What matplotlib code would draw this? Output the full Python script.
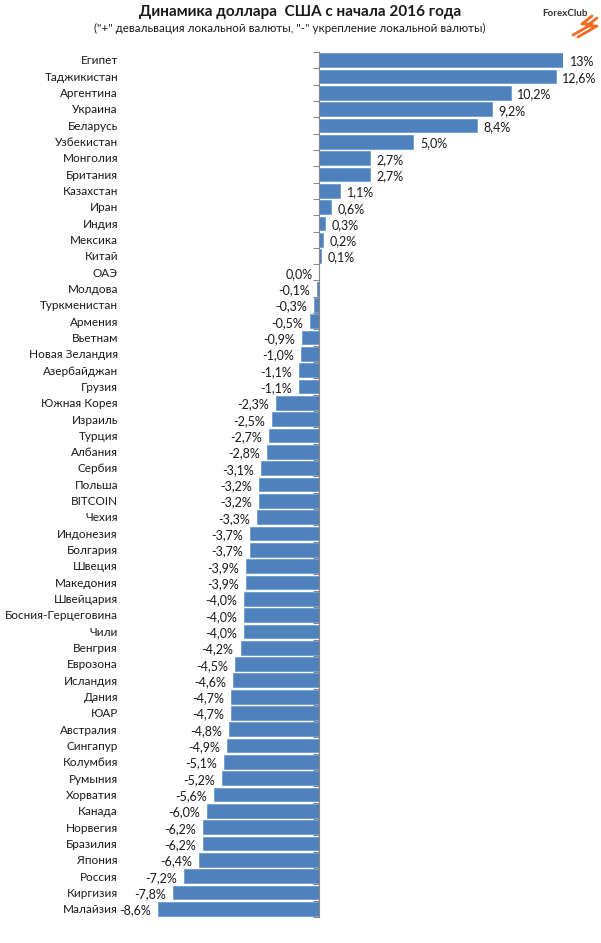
import numpy as np
import matplotlib
matplotlib.use('Agg')
import matplotlib.pyplot as plt
from matplotlib.transforms import blended_transform_factory
from matplotlib.lines import Line2D

plt.rcParams['font.family'] = ['Lato', 'DejaVu Sans']

countries = ['Египет', 'Таджикистан', 'Аргентина', 'Украина', 'Беларусь', 'Узбекистан',
             'Монголия', 'Британия', 'Казахстан', 'Иран', 'Индия', 'Мексика', 'Китай',
             'ОАЭ', 'Молдова', 'Туркменистан', 'Армения', 'Вьетнам', 'Новая Зеландия',
             'Азербайджан', 'Грузия', 'Южная Корея', 'Израиль', 'Турция', 'Албания',
             'Сербия', 'Польша', 'BITCOIN', 'Чехия', 'Индонезия', 'Болгария', 'Швеция',
             'Македония', 'Швейцария', 'Босния-Герцеговина', 'Чили', 'Венгрия', 'Еврозона',
             'Исландия', 'Дания', 'ЮАР', 'Австралия', 'Сингапур', 'Колумбия', 'Румыния',
             'Хорватия', 'Канада', 'Норвегия', 'Бразилия', 'Япония', 'Россия', 'Киргизия',
             'Малайзия']
values = [13.0, 12.6, 10.2, 9.2, 8.4, 5.0,
          2.7, 2.7, 1.1, 0.6, 0.3, 0.2, 0.1,
          0.0, -0.1, -0.3, -0.5, -0.9, -1.0,
          -1.1, -1.1, -2.3, -2.5, -2.7, -2.8,
          -3.1, -3.2, -3.2, -3.3, -3.7, -3.7, -3.9,
          -3.9, -4.0, -4.0, -4.0, -4.2, -4.5,
          -4.6, -4.7, -4.7, -4.8, -4.9, -5.1, -5.2,
          -5.6, -6.0, -6.2, -6.2, -6.4, -7.2, -7.8,
          -8.6]
value_labels = ['13%'] + [f'{v:.1f}%'.replace('.', ',') for v in values[1:]]

W, H = 601, 943
fig = plt.figure(figsize=(W / 100, H / 100), dpi=100)
ax = fig.add_axes([158 / W, 26 / H, 405 / W, 865 / H])

y = np.arange(len(countries))
ax.barh(y, values, height=0.84, color='#4f81bd', edgecolor='#6f9bd1', linewidth=0.6, zorder=2)

ax.set_xlim(-8.6, 13)
ax.set_ylim(len(countries) - 0.5, -0.5)

for s in ['top', 'right', 'bottom']:
    ax.spines[s].set_visible(False)
ax.spines['left'].set_position(('data', 0))
ax.spines['left'].set_color('#868686')
ax.spines['left'].set_linewidth(0.8)
ax.set_xticks([])
ax.set_yticks(np.arange(len(countries) + 1) - 0.5)
ax.set_yticklabels([])
ax.tick_params(axis='y', length=4, color='#868686', width=0.8)

tr = blended_transform_factory(fig.transFigure, ax.transData)
for i, name in enumerate(countries):
    ax.text(118 / W, i + 0.05, name, transform=tr, ha='right', va='center',
            fontsize=8.5, color='#1a1a1a')

for i, (v, lab) in enumerate(zip(values, value_labels)):
    if v > 0:
        ax.annotate(lab, (v, i + 0.1), xytext=(5, 0), textcoords='offset points',
                    ha='left', va='center', fontsize=9, color='#1a1a1a', annotation_clip=False)
    else:
        ax.annotate(lab, (v, i + 0.1), xytext=(-5, 0), textcoords='offset points',
                    ha='right', va='center', fontsize=9, color='#1a1a1a', annotation_clip=False)

fig.text(300 / W, 1 - 12 / H, 'Динамика доллара  США с начала 2016 года', ha='center', va='center',
         fontsize=11, fontweight='bold', color='#1a1a1a')
fig.text(290 / W, 1 - 28 / H, '("+" девальвация локальной валюты, "-" укрепление локальной валюты)',
         ha='center', va='center', fontsize=8.4, color='#1a1a1a')

# logo
fig.text(565 / W, 1 - 13 / H, 'ForexClub', ha='center', va='center', fontsize=7,
         fontweight='bold', color='#333333')
for dx in [0, 5]:
    xs = np.array([592, 582, 592, 573]) + dx
    ys = np.array([16, 24, 24, 35]) + dx * 0.4
    fig.add_artist(Line2D(xs / W, 1 - ys / H, color='#f26b21', linewidth=2.0,
                          solid_capstyle='round', solid_joinstyle='round'))

fig.savefig('out.png', dpi=100, facecolor='white')
